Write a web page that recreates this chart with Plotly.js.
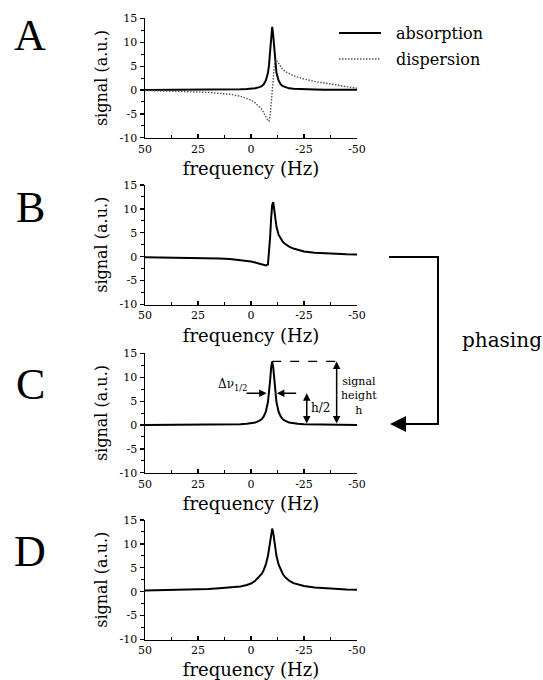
<!DOCTYPE html>
<html>
<head>
<meta charset="utf-8">
<script src="https://cdn.plot.ly/plotly-3.0.1.min.js"></script>
<style>html,body{margin:0;padding:0;background:#fff;}#chart{width:543px;height:680px;}</style>
</head>
<body>
<div id="chart"></div>
<script>
// ---- data ----
const panelLetters = ['A', 'B', 'C', 'D'];
const xTickVals = [50, 25, 0, -25, -50];
const xTickText = ['50', '25', '0', '-25', '-50'];
const yTickVals = [-10, -5, 0, 5, 10, 15];
const yTickText = ['-10', '-5', '0', '5', '10', '15'];

const freq = [50, 40, 30, 25, 20, 15, 10, 5, 2, 0, -2, -4, -5, -6, -7, -8, -8.5, -9, -9.5, -10,
  -10.5, -11, -11.5, -12, -13, -14, -15, -16, -18, -20, -22, -25, -30, -35, -40, -45, -50];

const absorptionA = [0.02, 0.02, 0.03, 0.04, 0.05, 0.07, 0.1, 0.15, 0.2, 0.25, 0.35, 0.6, 0.8, 1.2, 2.0, 3.6, 5.2, 8.0, 11.3, 13.2,
  11.3, 8.0, 5.2, 3.6, 2.0, 1.2, 0.8, 0.6, 0.35, 0.25, 0.2, 0.15, 0.1, 0.07, 0.05, 0.04, 0.03];

const dispersionA = [-0.1, -0.2, -0.3, -0.4, -0.5, -0.7, -0.9, -1.3, -1.7, -2.1, -2.7, -3.5, -4.0, -4.8, -5.7, -6.4, -6.5, -5.5, -3.0, 0,
  3.0, 5.2, 6.2, 6.3, 5.6, 4.8, 4.3, 3.9, 3.4, 3.0, 2.7, 2.3, 1.8, 1.4, 1.0, 0.7, 0.4];

const signalB = [-0.1, -0.15, -0.2, -0.2, -0.3, -0.4, -0.5, -0.7, -0.9, -1.0, -1.2, -1.4, -1.5, -1.7, -1.85, -1.6, 0.5, 4.0, 8.0, 10.8,
  11.4, 10.0, 8.0, 6.3, 4.6, 3.7, 3.1, 2.7, 2.1, 1.7, 1.4, 1.1, 0.85, 0.7, 0.6, 0.5, 0.45];

const signalC = [0.0, 0.0, 0.02, 0.03, 0.05, 0.07, 0.1, 0.15, 0.25, 0.35, 0.5, 0.9, 1.2, 1.8, 2.8, 4.8, 6.6, 9.2, 12.0, 13.3,
  12.0, 9.2, 6.6, 4.8, 2.8, 1.8, 1.2, 0.9, 0.5, 0.35, 0.25, 0.15, 0.1, 0.07, 0.05, 0.03, 0.02];

const signalD = [0.25, 0.3, 0.4, 0.45, 0.55, 0.7, 0.85, 1.1, 1.4, 1.7, 2.3, 3.1, 3.7, 4.5, 5.7, 7.5, 8.8, 10.6, 12.3, 13.2,
  12.3, 10.6, 8.8, 7.5, 5.7, 4.5, 3.7, 3.1, 2.3, 1.8, 1.5, 1.2, 0.9, 0.7, 0.55, 0.45, 0.4];

// annotation values for panel C
const peakFreqC = -10;
const peakHeightC = 13.3;
const heightArrowFreq = -40.4;
const halfArrowFreq = -26.3;
const fwhmLeftTail = 2.8, fwhmLeftTip = -7.4;
const fwhmRightTail = -22, fwhmRightTip = -12.2;

// ---- layout helpers ----
const W = 543, H = 680;
const px = v => v / W;
const py = v => 1 - v / H;
const serif = 'DejaVu Serif';
const letterFont = 'Liberation Serif';

const xDom = [px(145), px(357)];
const panelTops = [18.3, 185, 353.3, 520];
const panelH = 119.5;

function xAxis(i) {
  return {
    domain: xDom, anchor: 'y' + (i === 1 ? '' : i),
    range: [50, -50], autorange: false,
    tickmode: 'array', tickvals: xTickVals, ticktext: xTickText,
    ticks: 'inside', ticklen: 4, tickwidth: 1.2, tickcolor: '#000',
    minor: {ticks: 'inside', ticklen: 3, tickwidth: 1, tickcolor: '#000', dtick: 12.5, tick0: 0, showgrid: false},
    showline: true, linecolor: '#000', linewidth: 1.5,
    showgrid: false, zeroline: false,
    tickfont: {family: serif, size: 11, color: '#000'},
    title: {text: 'frequency (Hz)', font: {family: serif, size: 18, color: '#000'}, standoff: 8},
    automargin: false
  };
}
function yAxis(i) {
  const top = panelTops[i - 1];
  return {
    domain: [py(top + panelH), py(top)], anchor: 'x' + (i === 1 ? '' : i),
    range: [-10, 15], autorange: false,
    tickmode: 'array', tickvals: yTickVals, ticktext: yTickText,
    ticks: 'outside', ticklen: 4, tickwidth: 1.2, tickcolor: '#000',
    minor: {ticks: 'outside', ticklen: 3, tickwidth: 1, tickcolor: '#000', dtick: 2.5, tick0: 0, showgrid: false},
    showline: true, linecolor: '#000', linewidth: 1.5,
    showgrid: false, zeroline: false,
    tickfont: {family: serif, size: 11, color: '#000'},
    title: {text: 'signal (a.u.)', font: {family: serif, size: 16, color: '#000'}, standoff: 8},
    automargin: false
  };
}

const solid = {color: '#000', width: 2};
const dotted = {color: '#555', width: 1.4, dash: '1.5px,1.5px'};
const traces = [
  {x: freq, y: absorptionA, xaxis: 'x', yaxis: 'y', mode: 'lines', line: solid, name: 'absorption'},
  {x: freq, y: dispersionA, xaxis: 'x', yaxis: 'y', mode: 'lines', line: dotted, name: 'dispersion'},
  {x: freq, y: signalB, xaxis: 'x2', yaxis: 'y2', mode: 'lines', line: solid, name: 'B'},
  {x: freq, y: signalC, xaxis: 'x3', yaxis: 'y3', mode: 'lines', line: solid, name: 'C'},
  {x: freq, y: signalD, xaxis: 'x4', yaxis: 'y4', mode: 'lines', line: solid, name: 'D'}
];

const letterY = [35, 207, 384, 551];
const annotations = panelLetters.map((L, i) => ({
  text: L, xref: 'paper', yref: 'paper', x: px(30), y: py(letterY[i]),
  xanchor: 'center', yanchor: 'middle', showarrow: false,
  font: {family: letterFont, size: 44, color: '#000'}
}));

// legend (manual)
annotations.push(
  {text: 'absorption', xref: 'paper', yref: 'paper', x: px(394), y: py(33), xanchor: 'left', yanchor: 'middle', showarrow: false, font: {family: serif, size: 16, color: '#000'}},
  {text: 'dispersion', xref: 'paper', yref: 'paper', x: px(394), y: py(59), xanchor: 'left', yanchor: 'middle', showarrow: false, font: {family: serif, size: 16, color: '#000'}},
  {text: 'phasing', xref: 'paper', yref: 'paper', x: px(460), y: py(340), xanchor: 'left', yanchor: 'middle', showarrow: false, font: {family: serif, size: 20, color: '#000'}},
  // phasing arrow head
  {text: '', xref: 'paper', yref: 'paper', x: px(390), y: py(424), ax: 48, ay: 0, showarrow: true, arrowhead: 2, arrowsize: 1.6, arrowwidth: 2, arrowcolor: '#000'},
  // panel C annotations
  {text: '', xref: 'x3', yref: 'y3', axref: 'x3', ayref: 'y3', x: heightArrowFreq, y: peakHeightC, ax: heightArrowFreq, ay: 0, showarrow: true, arrowhead: 2, startarrowhead: 2, arrowside: 'end+start', arrowsize: 1, startarrowsize: 1, arrowwidth: 1.5, arrowcolor: '#000'},
  {text: '', xref: 'x3', yref: 'y3', axref: 'x3', ayref: 'y3', x: halfArrowFreq, y: peakHeightC / 2, ax: halfArrowFreq, ay: 0, showarrow: true, arrowhead: 2, startarrowhead: 2, arrowside: 'end+start', arrowsize: 1, startarrowsize: 1, arrowwidth: 1.5, arrowcolor: '#000'},
  {text: '', xref: 'x3', yref: 'y3', axref: 'x3', ayref: 'y3', x: fwhmLeftTip, y: peakHeightC / 2, ax: fwhmLeftTail, ay: peakHeightC / 2, showarrow: true, arrowhead: 2, arrowsize: 1, arrowwidth: 1.5, arrowcolor: '#000'},
  {text: '', xref: 'x3', yref: 'y3', axref: 'x3', ayref: 'y3', x: fwhmRightTip, y: peakHeightC / 2, ax: fwhmRightTail, ay: peakHeightC / 2, showarrow: true, arrowhead: 2, arrowsize: 1, arrowwidth: 1.5, arrowcolor: '#000'},
  {text: 'Δν<sub>1/2</sub>', xref: 'x3', yref: 'y3', x: 1, y: 8.4, xanchor: 'right', yanchor: 'middle', showarrow: false, font: {family: serif, size: 12, color: '#000'}},
  {text: 'h/2', xref: 'x3', yref: 'y3', x: -32.8, y: 3.5, xanchor: 'center', yanchor: 'middle', showarrow: false, font: {family: serif, size: 12, color: '#000'}},
  {text: 'signal<br>height<br>h', xref: 'paper', yref: 'paper', x: px(359), y: py(396), xanchor: 'center', yanchor: 'middle', showarrow: false, font: {family: serif, size: 11, color: '#000'}}
);

const shapes = [
  {type: 'line', xref: 'paper', yref: 'paper', x0: px(339), x1: px(381), y0: py(33), y1: py(33), line: {color: '#000', width: 2}},
  {type: 'line', xref: 'paper', yref: 'paper', x0: px(339), x1: px(381), y0: py(59), y1: py(59), line: dotted},
  {type: 'path', xref: 'paper', yref: 'paper', path: `M ${px(389)} ${py(257)} L ${px(438)} ${py(257)} L ${px(438)} ${py(424)} L ${px(400)} ${py(424)}`, line: {color: '#000', width: 2}},
  {type: 'line', xref: 'x3', yref: 'y3', x0: peakFreqC, x1: heightArrowFreq, y0: peakHeightC, y1: peakHeightC, line: {color: '#000', width: 1.2, dash: 'dash'}}
];

const layout = {
  width: W, height: H,
  margin: {l: 0, r: 0, t: 0, b: 0},
  paper_bgcolor: '#fff', plot_bgcolor: '#fff',
  showlegend: false,
  font: {family: serif, color: '#000'},
  annotations: annotations,
  shapes: shapes
};
[1, 2, 3, 4].forEach(i => {
  layout['xaxis' + (i === 1 ? '' : i)] = xAxis(i);
  layout['yaxis' + (i === 1 ? '' : i)] = yAxis(i);
});

Plotly.newPlot('chart', traces, layout, {displayModeBar: false, staticPlot: true});
</script>
</body>
</html>
